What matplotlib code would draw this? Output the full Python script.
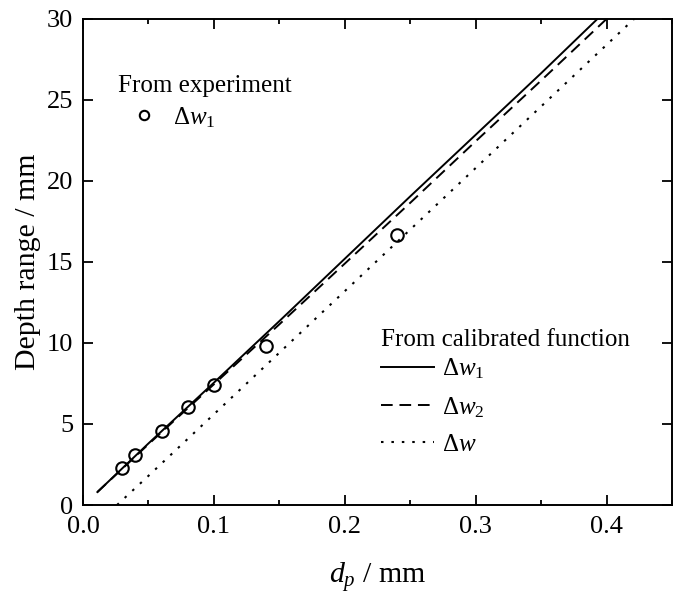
import matplotlib
matplotlib.use("Agg")
import matplotlib.pyplot as plt
from matplotlib.ticker import MultipleLocator

plt.rcParams['font.family'] = ['Liberation Serif', 'DejaVu Serif']
plt.rcParams['mathtext.fontset'] = 'custom'
plt.rcParams['mathtext.rm'] = 'Liberation Serif'
plt.rcParams['mathtext.it'] = 'Liberation Serif:italic'

# experiment points (delta w1)
exp_dp = [0.03, 0.04, 0.06, 0.08, 0.10, 0.14, 0.24]
exp_w1 = [2.3, 3.1, 4.57, 6.05, 7.4, 9.8, 16.65]

# calibrated function curves
w1_dp = [0.011, 0.05, 0.10, 0.15, 0.20, 0.25, 0.30, 0.35, 0.393]
w1_val = [0.8, 3.8, 7.55, 11.35, 15.2, 19.05, 22.85, 26.65, 30.0]
w2_dp = [0.011, 0.05, 0.10, 0.15, 0.20, 0.25, 0.30, 0.35, 0.40]
w2_val = [0.8, 3.75, 7.45, 11.15, 14.9, 18.65, 22.45, 26.2, 30.0]
w_dp = [0.026, 0.05, 0.10, 0.15, 0.20, 0.25, 0.30, 0.35, 0.421]
w_val = [0.0, 1.8, 5.6, 9.4, 13.2, 17.0, 20.8, 24.6, 30.0]

fig = plt.figure(figsize=(6.82, 5.97), dpi=100)
ax = fig.add_axes([0.1217, 0.1541, 0.8636, 0.8141])

l1, = ax.plot(w1_dp, w1_val, color='black', lw=1.4)
l2, = ax.plot(w2_dp, w2_val, color='black', lw=1.4, dashes=(6, 3.5))
l3, = ax.plot(w_dp, w_val, color='black', lw=1.5, dashes=(1.2, 3.8))
pts, = ax.plot(exp_dp, exp_w1, 'o', ms=9, mfc='none', mec='black', mew=1.5)

ax.set_xlim(0, 0.45)
ax.set_ylim(0, 30)
ax.xaxis.set_major_locator(MultipleLocator(0.1))
ax.xaxis.set_minor_locator(MultipleLocator(0.05))
ax.yaxis.set_major_locator(MultipleLocator(5))
ax.tick_params(which='both', direction='in', top=True, right=True, labelsize=19)
ax.tick_params(which='major', length=7, width=1.3)
ax.tick_params(which='minor', length=3.5, width=1.3)
ax.tick_params(axis='x', pad=8)
ax.tick_params(axis='y', pad=7)
for s in ax.spines.values():
    s.set_linewidth(1.4)

ax.set_xlabel('$d_p$ / mm', fontsize=21.5, labelpad=16)
ax.set_ylabel('Depth range / mm', fontsize=21.5, labelpad=4)

leg1 = ax.legend([pts], [r'$\Delta w_1$'], title='From experiment',
                 loc='upper left', bbox_to_anchor=(0.059, 0.885), frameon=False,
                 fontsize=18, title_fontsize=18, alignment='left', markerscale=0.75,
                 handlelength=2.1, handletextpad=0.1, borderpad=0, borderaxespad=0,
                 labelspacing=0.5)
leg1._legend_box.sep = 6
ax.add_artist(leg1)
leg2 = ax.legend([l1, l2, l3], [r'$\Delta w_1$', r'$\Delta w_2$', r'$\Delta w$'],
                 title='From calibrated function', loc='upper left',
                 bbox_to_anchor=(0.506, 0.362), frameon=False, fontsize=18,
                 title_fontsize=18, alignment='left', handlelength=2.1,
                 handletextpad=0.32, borderpad=0, borderaxespad=0, labelspacing=0.55)
leg2._legend_box.sep = 4

fig.savefig('out.png', dpi=100)
